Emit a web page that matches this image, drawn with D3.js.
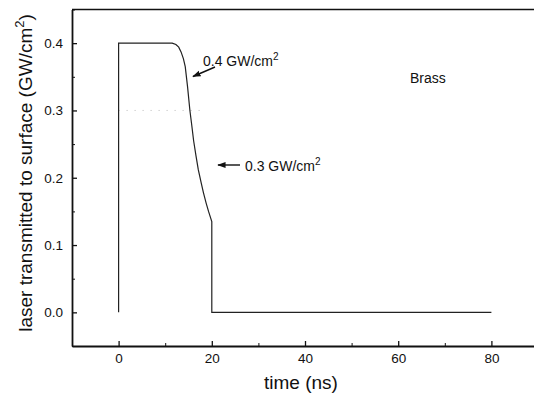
<!DOCTYPE html>
<html><head><meta charset="utf-8">
<script src="https://cdn.jsdelivr.net/npm/d3@7"></script>
<style>body{margin:0;background:#fff}svg{display:block}text{font-family:"Liberation Sans",Arial,sans-serif;fill:#111}</style>
</head><body>
<svg id="c" width="534" height="393"></svg>
<script>
// data
const timeNs = [0, 0,   5,   11.5, 12.3,  12.9,  13.4,  13.9,  14.3,  14.8,  15.3, 15.7,  16.1,  16.6,  17.1,  17.7,  18.2,  18.8,  19.3, 20,    20, 40, 60, 80];
const power  = [0, 0.4, 0.4, 0.4,  0.398, 0.394, 0.387, 0.377, 0.365, 0.335, 0.30, 0.278, 0.255, 0.233, 0.212, 0.193, 0.178, 0.162, 0.15, 0.135, 0,  0,  0,  0];
const faintTime  = [0, 18];
const faintPower = [0.3, 0.3];
const xTicks = [0, 20, 40, 60, 80];
const yTicks = [0.0, 0.1, 0.2, 0.3, 0.4];
const xMinor = [-10, 10, 30, 50, 70, 90];
const yMinor = [-0.05, 0.05, 0.15, 0.25, 0.35, 0.45];

const svg = d3.select("#c");
const x = d3.scaleLinear().domain([-10, 90]).range([72, 538]);
const y = d3.scaleLinear().domain([-0.05, 0.45]).range([346, 9.5]);

// frame
svg.append("line").attr("x1",72).attr("x2",534).attr("y1",y(0.45)).attr("y2",y(0.45)).attr("stroke","#111").attr("stroke-width",1.6);

// x axis
const xa = svg.append("g").attr("transform","translate(0,346)")
  .call(d3.axisBottom(x).tickValues(xTicks).tickFormat(d3.format("d")).tickSizeInner(-5).tickSizeOuter(0).tickPadding(7));
xa.select(".domain").attr("stroke","#111").attr("stroke-width",1.8);
xa.selectAll(".tick line").attr("stroke","#111").attr("stroke-width",1.3);
xa.selectAll("text").attr("font-size",13.5).attr("fill","#111");
svg.append("g").attr("transform","translate(0,346)")
  .call(d3.axisBottom(x).tickValues(xMinor).tickFormat("").tickSizeInner(-3).tickSizeOuter(0))
  .call(g=>g.select(".domain").remove()).selectAll("line").attr("stroke","#111");

// y axis
const ya = svg.append("g").attr("transform","translate(72,0)")
  .call(d3.axisLeft(y).tickValues(yTicks).tickFormat(d3.format(".1f")).tickSizeInner(-5).tickSizeOuter(0).tickPadding(9));
ya.select(".domain").attr("stroke","#111").attr("stroke-width",1.8);
ya.selectAll(".tick line").attr("stroke","#111").attr("stroke-width",1.3);
ya.selectAll("text").attr("font-size",13.5).attr("fill","#111");
svg.append("g").attr("transform","translate(72,0)")
  .call(d3.axisLeft(y).tickValues(yMinor).tickFormat("").tickSizeInner(-3).tickSizeOuter(0))
  .call(g=>g.select(".domain").remove()).selectAll("line").attr("stroke","#111");

// faint trace
svg.append("path").datum(faintTime.map((t,i)=>[t,faintPower[i]]))
  .attr("d", d3.line().x(d=>x(d[0])).y(d=>y(d[1])))
  .attr("fill","none").attr("stroke","#bbb").attr("stroke-width",1).attr("stroke-dasharray","1,7");

// main curve
svg.append("path").datum(timeNs.map((t,i)=>[t,power[i]]))
  .attr("d", d3.line().x(d=>x(d[0])).y(d=>y(d[1])))
  .attr("fill","none").attr("stroke","#222").attr("stroke-width",1.2);

// arrows
const defs = svg.append("defs");
defs.append("marker").attr("id","ah").attr("viewBox","0 0 10 10").attr("refX",9).attr("refY",5)
  .attr("markerWidth",6).attr("markerHeight",6).attr("orient","auto")
  .append("path").attr("d","M0,1.5L10,5L0,8.5z").attr("fill","#111");
svg.append("line").attr("x1",215).attr("y1",67).attr("x2",193).attr("y2",76.5).attr("stroke","#111").attr("stroke-width",1.4).attr("marker-end","url(#ah)");
svg.append("line").attr("x1",240).attr("y1",165).attr("x2",218).attr("y2",165).attr("stroke","#111").attr("stroke-width",1.4).attr("marker-end","url(#ah)");

function sup(xx, yy, main){
  const tx = svg.append("text").attr("x",xx).attr("y",yy).attr("font-size",14);
  tx.append("tspan").text(main);
  tx.append("tspan").attr("dy",-6).attr("font-size",10).text("2");
}
sup(203, 66, "0.4 GW/cm");
sup(245, 171, "0.3 GW/cm");
svg.append("text").attr("x",410).attr("y",83).attr("font-size",14).text("Brass");

// axis titles
svg.append("text").attr("x",301).attr("y",389).attr("text-anchor","middle").attr("font-size",19).text("time (ns)");
const yt = svg.append("text").attr("transform","translate(32,173) rotate(-90)").attr("text-anchor","middle").attr("font-size",19);
yt.append("tspan").text("laser transmitted to surface (GW/cm");
yt.append("tspan").attr("dy",-8).attr("font-size",13).text("2");
yt.append("tspan").attr("dy",8).text(")");
</script>
</body></html>
